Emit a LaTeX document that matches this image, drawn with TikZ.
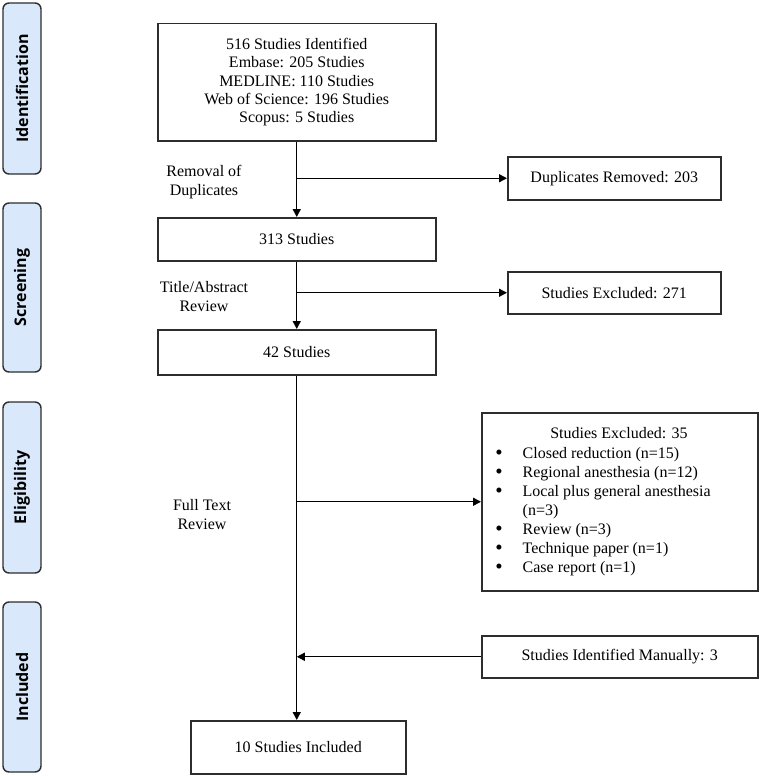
\documentclass[tikz,border=0pt]{standalone}
\usepackage{fontspec}
\setmainfont{Liberation Serif}
\newfontfamily\barfont{Open Sans}
\usetikzlibrary{arrows.meta}
\definecolor{barfill}{RGB}{217,233,251}
\definecolor{edge}{RGB}{45,45,45}
\tikzset{
  box/.style={draw=edge, line width=1.5pt, fill=white, inner sep=0pt, anchor=north west,
    font=\fontsize{16}{18.3}\selectfont, align=center},
  bar/.style={draw=edge, line width=1.4pt, fill=barfill, rounded corners=6pt},
  bartext/.style={rotate=90, font=\barfont\bfseries\fontsize{16}{18}\selectfont},
  lbl/.style={font=\fontsize{16}{19}\selectfont, align=center, inner sep=0pt},
  txt/.style={font=\fontsize{16}{18.3}\selectfont, inner sep=0pt},
  bulletdot/.style={font=\fontsize{21}{18}\selectfont, inner sep=0pt},
  conn/.style={line width=1.4pt, black},
  arr/.style={conn, -{Triangle[length=8pt,width=8pt]}}
}
\begin{document}
\begin{tikzpicture}[x=1pt,y=-1pt]
\useasboundingbox (0,0) rectangle (760,776);
% side bars
\draw[bar] (3,3) rectangle (41,174);
\node[bartext] (tIdent) at (22,88.5) {Identification};
\draw[bar] (3,203) rectangle (41,372);
\node[bartext] (tScreen) at (22,287.5) {Screening};
\draw[bar] (3,402) rectangle (41,573);
\node[bartext] (tElig) at (22,487.5) {Eligibility};
\draw[bar] (3,602) rectangle (41,772);
\node[bartext] (tIncl) at (22,687) {Included};

% main column boxes
\node[box, minimum width=278pt, minimum height=117pt] (b1) at (157,23)
  {516 Studies Identified\\Embase: 205 Studies\\MEDLINE: 110 Studies\\Web of Science: 196 Studies\\Scopus: 5 Studies};
\node[box, minimum width=278pt, minimum height=43pt] (b2) at (157,217) {313 Studies};
\node[box, minimum width=278pt, minimum height=45pt] (b3) at (157,329) {42 Studies};
\node[box, minimum width=215pt, minimum height=53pt] (b4) at (190,720) {10 Studies Included};

% right boxes
\node[box, minimum width=213pt, minimum height=43pt] (r1) at (507,156) {Duplicates Removed: 203};
\node[box, minimum width=213pt, minimum height=42pt] (r2) at (507,271) {Studies Excluded: 271};
\node[box, minimum width=276pt, minimum height=178pt] (r3) at (481,412) {};
\node[box, minimum width=276pt, minimum height=42pt] (r4) at (481,635) {Studies Identified Manually: 3};

% excluded list
\node[txt] (r3t) at (619,433) {Studies Excluded: 35};
\foreach \i/\y/\t in {1/455/Closed reduction (n=15), 2/474/Regional anesthesia (n=12), 3/493/Local plus general anesthesia, 5/531/Review (n=3), 6/550/Technique paper (n=1), 7/569/Case report (n=1)} {
  \node[bulletdot] (bul\i) at (499,\y) {•};
  \node[txt, anchor=west] (item\i) at (522.5,\y) {\t};
}
\node[txt, anchor=west] (item4) at (522.5,512) {(n=3)};

% labels
\node[lbl] (l1) at (204,182) {Removal of\\Duplicates};
\node[lbl] (l2) at (204,296.5) {Title/Abstract\\Review};
\node[lbl] (l3) at (202,514.5) {Full Text\\Review};

% connectors
\coordinate (j1) at (b1.south |- r1.west);
\coordinate (j2) at (b2.south |- r2.west);
\coordinate (j3) at (b3.south |- r3.west);
\coordinate (j4) at (b3.south |- r4.west);
\draw[arr] (b1.south) -- (b2.north);
\draw[arr] (j1) -- (r1.west);
\draw[arr] (b2.south) -- (b3.north);
\draw[arr] (j2) -- (r2.west);
\draw[arr] (b3.south) -- (b3.south |- b4.north);
\draw[arr] (j3) -- (r3.west);
\draw[arr] (r4.west) -- (j4);
\end{tikzpicture}
\end{document}
